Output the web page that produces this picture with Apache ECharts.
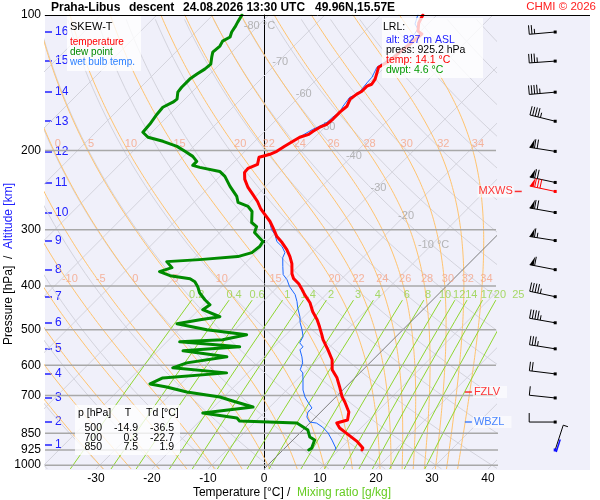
<!DOCTYPE html>
<html>
<head>
<meta charset="utf-8">
<script src="https://cdn.jsdelivr.net/npm/echarts@6/dist/echarts.min.js"></script>
<style>
html,body{margin:0;padding:0;background:#fff}
#chart{width:600px;height:500px}
</style>
</head>
<body>
<div id="chart"></div>
<script>
// sounding: [pressure hPa, value °C]
const tempProfile = [
  [100,-52.5],[104.2,-51.8],[108.6,-50.5],[110.2,-49.3],[116.0,-49.6],[120.9,-50.0],[126.0,-50.2],[130.6,-51.1],
  [138.8,-49.6],[142.5,-49.3],[143.9,-49.8],[147.7,-49.8],[149.9,-50.2],[153.8,-50.5],[159.5,-49.8],[164.4,-50.0],
  [170.5,-50.0],[174.9,-50.2],[177.5,-50.9],[181.2,-51.4],[184.2,-51.6],[186.9,-52.7],[190.8,-53.2],[195.7,-53.8],
  [200.8,-54.3],[203.9,-55.0],[206.0,-55.9],[207.1,-56.4],[214.8,-55.4],[216.9,-55.9],[219.2,-56.4],[223.7,-56.3],
  [231.9,-55.0],[241.6,-53.0],[250.4,-50.9],[259.6,-48.8],[269.1,-47.0],[276.0,-45.5],[287.6,-43.0],[296.6,-41.4],
  [310.6,-39.1],[320.3,-37.1],[332.0,-35.0],[344.1,-33.2],[356.7,-31.6],[375.5,-29.8],[385.3,-28.6],[395.3,-26.8],
  [405.5,-25.4],[418.0,-23.8],[435.7,-21.4],[456.3,-19.3],[475.2,-17.1],[492.9,-15.4],[513.1,-13.6],[526.2,-12.5],
  [554.4,-9.8],[583.2,-7.3],[613.9,-5.5],[639.9,-3.2],[670.4,-1.1],[705.2,1.1],[723.9,2.5],[762.0,5.0],
  [794.0,6.2],[806.0,4.8],[826.8,6.2],[847.9,8.2],[886.9,11.8],[915.8,13.9],[925.2,14.1]
];
const dewProfile = [
  [100,-84.8],[103.7,-84.3],[106.3,-83.9],[109.1,-83.6],[111.9,-83.0],[114.3,-83.6],[117.2,-83.2],[120.9,-83.4],
  [124.0,-82.7],[128.6,-81.6],[131.9,-81.8],[135.3,-82.3],[138.8,-82.7],[144.7,-82.7],[148.4,-82.5],[153.8,-81.4],
  [156.2,-81.6],[160.3,-82.5],[166.1,-82.3],[174.9,-81.8],[182.2,-81.6],[186.9,-79.8],[190.8,-76.4],[195.8,-73.0],
  [200.8,-70.7],[206.1,-68.4],[211.4,-66.8],[215.8,-66.8],[218.0,-65.2],[222.6,-60.9],[228.3,-59.1],[240.3,-56.4],
  [253.0,-53.4],[260.9,-52.1],[266.3,-49.6],[273.2,-48.0],[289.1,-46.1],[295.1,-44.5],[304.3,-43.8],[318.7,-40.7],
  [326.9,-40.4],[337.2,-40.7],[344.1,-42.5],[349.5,-48.8],[353.1,-54.3],[364.1,-52.3],[371.7,-53.8],[379.4,-51.2],
  [385.3,-47.1],[391.3,-45.7],[401.4,-44.3],[414.0,-42.9],[429.1,-40.7],[440.2,-38.9],[451.6,-39.3],[468.1,-35.0],
  [475.4,-38.0],[485.3,-41.4],[500.4,-35.0],[513.4,-27.0],[526.8,-30.4],[532.2,-37.7],[546.0,-26.1],[557.3,-35.5],
  [574.7,-26.6],[592.7,-32.7],[608.0,-34.3],[623.8,-23.8],[640.1,-34.3],[660.1,-35.5],[670.3,-32.0],[687.8,-27.5],
  [705.6,-20.7],[720.3,-17.7],[742.7,-13.0],[765.9,-20.9],[785.8,-13.9],[798.1,-12.9],[806.4,-2.3],[835.8,0.9],
  [866.3,2.5],[879.8,3.9],[916.6,4.8],[925.2,4.6]
];
const wetBulbProfile = [
  [100,-53.4],[102.1,-52.9],[104.7,-52.3],[107.4,-50.9],[116.0,-50.0],[124.0,-50.5],[130.6,-51.4],[137.4,-50.5],
  [141.0,-50.4],[146.1,-50.2],[149.9,-50.0],[152.3,-50.9],[159.5,-50.5],[164.4,-50.0],[168.7,-50.4],[173.1,-50.5],
  [176.6,-51.1],[179.5,-51.8],[186.9,-52.8],[190.8,-53.3],[195.7,-53.9],[200.8,-54.4],[203.9,-55.1],[206.0,-56.0],
  [207.1,-56.5],[214.8,-55.5],[216.9,-56.0],[219.2,-56.5],[223.7,-56.4],[231.9,-55.1],[241.6,-53.1],[250.4,-51.0],
  [259.6,-48.9],[269.1,-47.1],[276.0,-45.6],[287.6,-43.1],[299.7,-41.3],[307.4,-39.8],[318.7,-38.2],[326.9,-36.4],
  [337.2,-34.8],[345.9,-34.3],[362.1,-32.7],[377.3,-31.2],[387.3,-29.6],[401.4,-27.9],[418.0,-25.5],[433.4,-23.9],
  [447.1,-22.7],[468.1,-20.7],[482.6,-19.6],[500.4,-18.0],[518.1,-16.6],[534.9,-16.1],[546.0,-14.8],[554.4,-14.8],
  [574.7,-13.2],[592.7,-12.0],[613.9,-11.2],[623.8,-10.2],[646.7,-8.9],[681.0,-7.1],[705.6,-5.5],[723.9,-4.1],
  [746.5,-2.3],[762.0,-2.3],[781.8,-1.6],[802.2,-0.2],[806.4,1.2],[823.2,3.0],[847.9,5.0],[879.8,7.0],
  [916.6,9.1],[925.2,9.3]
];

// axes
const pressureLevels = [100, 200, 300, 400, 500, 600, 700, 850, 925, 1000];
const tempTicks = [-30, -20, -10, 0, 10, 20, 30, 40];
const altKm = [16, 15, 14, 13, 12, 11, 10, 9, 8, 7, 6, 5, 4, 3, 2, 1];
const altP = [109.1, 126.6, 148.4, 172.2, 200.9, 235.5, 274.6, 317.0, 367.9, 422.5, 482.8, 551.6, 627.1, 709.2, 802.2, 902.5];

// wind at each km level and at the launch point
const windP = [109.1, 126.6, 148.4, 172.2, 200.9, 235.5, 274.6, 317.0, 367.9, 422.5, 482.8, 551.6, 627.1, 709.2, 802.2, 925.2];
const windDir = [265, 266, 265, 284, 279, 282, 280, 279, 281, 282, 280, 279, 277, 276, 270, 18];
const windSpd = [25, 35, 45, 45, 70, 70, 70, 65, 60, 45, 45, 35, 20, 10, 10, 5];
const mxws = { p: 246.6, dir: 282, spd: 80 };

// guide lines of the diagram
const isotherms = [-120, -110, -100, -90, -80, -70, -60, -50, -40, -30, -20, -10, 10, 20, 30, 40];
const isoLabelT = [-80, -70, -60, -50, -40, -30, -20, -10];
const isoLabelP = [106, 127, 150, 177, 206, 242, 280, 324];
const dryTheta = [-40, -30, -20, -10, 0, 10, 20, 30, 40, 50, 60, 70, 80, 90, 100, 110, 120, 130, 140, 150, 160, 170, 180];
const moistThetaW = [-30, -25, -20, -15, -10, -5, 0, 5, 10, 15, 20, 22, 24, 26, 28, 30, 32, 34];
const moistLabelLow = [-10, -5, 0, 5, 10, 15, 20, 22, 24, 26, 28, 30, 32, 34];
const moistLabelHigh = [0, 5, 10, 15, 20, 22, 24, 26, 28, 30, 32, 34];
const mixRatio = [0.2, 0.4, 0.6, 1, 1.4, 2, 3, 4, 6, 8, 10, 12, 14, 17, 20, 25];

// table and launch info
const tableP = [500, 700, 850];
const tableT = [-14.9, 0.3, 7.5];
const tableTd = [-36.5, -22.7, 1.9];
const lrlAlt = 827, lrlPress = 925.2, lrlTemp = 14.1, lrlDwpt = 4.6;
const fzlvP = 688, wbzlP = 802;

const FONT = 'Liberation Sans, Arial, Helvetica, sans-serif';
const PTOP = 100, PBOT = 1020;
const SKEW = 34.82;          // skew of isotherms, °C per e-fold of pressure
const XMIN = -39.1, XMAX = 41.43;
const BARB_X = 52;

function skewX(t, p) { return t + SKEW * Math.log(PBOT / p); }
function pt(p, t) { return [skewX(t, p), Math.log(p)]; }

function es(tc) { return 6.112 * Math.exp(17.67 * tc / (tc + 243.5)); }
function tFromE(e) { const l = Math.log(e / 6.112); return 243.5 * l / (17.67 - l); }

function moistCurve(thw) {
  const Rd = 287.04, Cp = 1005.7, Lv = 2.501e6, EPS = 0.622;
  const rate = (T, lnp) => {
    const p = Math.exp(lnp), e = es(T - 273.15), rs = EPS * e / (p - e);
    return (Rd * T + Lv * rs) / (Cp + Lv * Lv * rs * EPS / (Rd * T * T));
  };
  const h = 0.005;
  const out = [];
  // down to the bottom of the chart
  let T = thw + 273.15, l = Math.log(1000);
  const down = [];
  while (l < Math.log(PBOT)) {
    const k1 = rate(T, l), k2 = rate(T + k1 * h, l + h);
    T += (k1 + k2) / 2 * h; l += h;
    down.push([Math.exp(l), T - 273.15]);
  }
  down.reverse().forEach(d => out.push(d));
  T = thw + 273.15; l = Math.log(1000);
  out.push([1000, thw]);
  while (l > Math.log(PTOP)) {
    const k1 = rate(T, l), k2 = rate(T - k1 * h, l - h);
    T -= (k1 + k2) / 2 * h; l -= h;
    out.push([Math.exp(l), T - 273.15]);
  }
  return out;
}
function valueAt(curve, p) {
  let best = curve[0];
  curve.forEach(c => { if (Math.abs(Math.log(c[0] / p)) < Math.abs(Math.log(best[0] / p))) best = c; });
  return best[1];
}

const series = [];
function guide(points, color, width, clip, z) {
  series.push({
    type: 'line', data: points, symbol: 'none', silent: true, clip: clip, z: z,
    lineStyle: { color: color, width: width }, animation: false
  });
}

// isotherms
isotherms.forEach(t => guide([pt(PBOT, t), pt(PTOP, t)], '#d3d3dc', 1, true, 1));
// dry adiabats
dryTheta.forEach(th => {
  const pts = [];
  for (let l = Math.log(PBOT); l >= Math.log(PTOP) - 1e-9; l -= 0.05) {
    const p = Math.exp(l);
    pts.push(pt(p, (th + 273.15) * Math.pow(p / 1000, 0.2857) - 273.15));
  }
  guide(pts, '#d3d3dc', 1, true, 1);
});
// moist adiabats
const moistCurves = {};
moistThetaW.forEach(tw => {
  const c = moistCurve(tw);
  moistCurves[tw] = c;
  guide(c.map(d => pt(d[0], d[1])), '#ffc36e', 1, true, 1);
});
// mixing ratio lines
const mixP = [430, 480, 550, 650, 750, 850, 950, PBOT];
mixRatio.forEach(w => guide(mixP.map(p => pt(p, tFromE(w * p / (622 + w)))), '#8fd630', 1, false, 1));
// 0 °C isotherm
guide([pt(PBOT, 0), pt(PTOP, 0)], '#7c7c7c', 1, true, 1);
// isobars
pressureLevels.slice(1).forEach(p => {
  const xEnd = p >= 850 ? 50.4 : XMAX;
  guide([[XMIN, Math.log(p)], [xEnd, Math.log(p)]], '#a8a8a8', 1.5, false, 1);
});

function labelSeries(items, color, size, dx) {
  series.push({
    type: 'scatter', data: items, symbolSize: 0, silent: true, clip: false, z: 3, animation: false,
    itemStyle: { color: 'rgba(0,0,0,0)' },
    label: { show: true, position: 'inside', offset: [dx, 0], formatter: '{b}', color: color, fontSize: size, fontFamily: FONT }
  });
}
labelSeries(isoLabelT.map((t, i) => ({
  name: (t === -80 || t === -10) ? t + ' °C' : String(t), value: pt(isoLabelP[i], t)
})), '#a4a4a4', 11, 2);
labelSeries(moistLabelLow.map(tw => ({ name: String(tw), value: pt(385, valueAt(moistCurves[tw], 385)) })),
  '#f5a486', 11, 4);
labelSeries(moistLabelHigh.map(tw => ({ name: String(tw), value: pt(193, valueAt(moistCurves[tw], 193)) })),
  '#f5a486', 11, 7);
labelSeries(mixRatio.map(w => ({ name: String(w), value: pt(418, tFromE(w * 418 / (622 + w))) })), '#93d243', 11, 1);

// profiles
function profile(data, color, width, z) {
  series.push({
    type: 'line', data: data.map(d => pt(d[0], d[1])), symbol: 'none', silent: true, z: z, animation: false,
    lineStyle: { color: color, width: width, join: 'round', cap: 'round' }
  });
}
profile(dewProfile, '#008a00', 3, 4);
profile(wetBulbProfile, '#1a66ff', 1, 5);
profile(tempProfile, '#ff0000', 3, 6);

// wind barbs
function renderBarb(params, api) {
  const p = api.value(0), dir = api.value(1), spd = api.value(2), flag = api.value(3);
  const c = api.coord([BARB_X, Math.log(p)]);
  const col = flag === 1 ? '#ff0000' : '#000000';
  const a = dir * Math.PI / 180;
  const ux = Math.sin(a), uy = -Math.cos(a);
  const fx = -uy, fy = ux;
  const L = 26, F = 9, gap = 2.7;
  const x0 = c[0], y0 = c[1];
  const tx = x0 + ux * L, ty = y0 + uy * L;
  const kids = [];
  kids.push({ type: 'line', shape: { x1: x0, y1: y0, x2: tx, y2: ty }, style: { stroke: col, lineWidth: 1 } });
  if (flag === 2) {
    kids.push({ type: 'line', shape: { x1: x0 + 1, y1: y0 + 2, x2: x0 + 1 + ux * L * 0.5, y2: y0 + 2 + uy * L * 0.5 }, style: { stroke: '#1010ff', lineWidth: 1.5 } });
  }
  let s = Math.round(spd / 5) * 5, d = 0;
  while (s >= 50) {
    const ax = tx - ux * d, ay = ty - uy * d, bx = tx - ux * (d + 4), by = ty - uy * (d + 4);
    kids.push({ type: 'polygon', shape: { points: [[ax, ay], [bx + fx * F, by + fy * F], [bx, by]] }, style: { fill: col } });
    d += 5; s -= 50;
  }
  while (s >= 10) {
    const ax = tx - ux * d, ay = ty - uy * d;
    kids.push({ type: 'line', shape: { x1: ax, y1: ay, x2: ax + fx * F, y2: ay + fy * F }, style: { stroke: col, lineWidth: 1 } });
    d += gap; s -= 10;
  }
  if (s >= 5) {
    const ax = tx - ux * d, ay = ty - uy * d;
    kids.push({ type: 'line', shape: { x1: ax, y1: ay, x2: ax + fx * F * 0.55, y2: ay + fy * F * 0.55 }, style: { stroke: col, lineWidth: 1 } });
  }
  kids.push({ type: 'rect', shape: { x: x0 - 1.5, y: y0 - 1.5, width: 3, height: 3 }, style: { fill: flag === 2 ? '#1010ff' : col } });
  return { type: 'group', children: kids };
}
const barbData = windP.map((p, i) => [p, windDir[i], windSpd[i], i === windP.length - 1 ? 2 : 0]);
barbData.push([mxws.p, mxws.dir, mxws.spd, 1]);
series.push({ type: 'custom', renderItem: renderBarb, data: barbData, clip: false, silent: true, z: 7, animation: false });

// level markers
function marker(x, p, name, color, pos) {
  series.push({
    type: 'scatter', data: [{ name: name, value: [x, Math.log(p)] }], symbol: 'rect', symbolSize: [7, 1.5],
    itemStyle: { color: color }, clip: false, silent: true, z: 8, animation: false,
    label: {
      show: true, position: pos, distance: 1, formatter: '{b}', color: color, fontSize: 11, fontFamily: FONT,
      backgroundColor: 'rgba(255,255,255,0.75)', padding: pos === 'right' ? [1, 7, 0, 1] : [1, 1, 0, 1]
    }
  });
}
marker(36.5, fzlvP, 'FZLV', '#ff0000', 'right');
marker(36.5, wbzlP, 'WBZL', '#1a66ff', 'right');
marker(45.4, mxws.p, 'MXWS', '#ff0000', 'left');

function txt(x, y, text, color, size, extra) {
  return Object.assign({
    type: 'text', x: x, y: y, z: 101,
    style: {
      text: text, fill: color, font: (extra && extra.bold ? 'bold ' : '') + size + 'px ' + FONT,
      textAlign: (extra && extra.align) || 'left', align: (extra && extra.align) || 'left',
      textVerticalAlign: 'middle', verticalAlign: 'middle'
    }
  }, extra && extra.el ? extra.el : {});
}
function box(x, y, w, h) {
  return { type: 'rect', z: 100, shape: { x: x, y: y, width: w, height: h }, style: { fill: 'rgba(255,255,255,0.78)' } };
}
const fmt = v => v.toFixed(1);
const graphics = [
  { type: 'rect', z: -10, shape: { x: 45, y: 15, width: 545, height: 455 }, style: { fill: '#f0f0fa' } },
  { type: 'line', z: 50, shape: { x1: 45, y1: 15.5, x2: 590, y2: 15.5 }, style: { stroke: '#000', lineWidth: 1 } },
  txt(51, 8, 'Praha-Libus', '#000', 12, { bold: true }),
  txt(129, 8, 'descent', '#000', 12, { bold: true }),
  txt(183, 8, '24.08.2026 13:30 UTC', '#000', 12, { bold: true }),
  txt(315, 8, '49.96N,15.57E', '#000', 12, { bold: true }),
  txt(596, 7, 'CHMI © 2026', '#ff2020', 11.5, { align: 'right' }),
  box(67, 16, 74, 55),
  txt(70, 27, 'SKEW-T', '#000', 11),
  txt(70, 42, 'temperature', '#ff0000', 10),
  txt(70, 52, 'dew point', '#008a00', 10),
  txt(70, 62, 'wet bulb temp.', '#2a7fff', 10),
  box(382, 18, 101, 60),
  txt(383, 27, 'LRL:', '#000', 10.5),
  txt(386, 40, 'alt: ' + lrlAlt + ' m ASL', '#2020ff', 10.5),
  txt(386, 50, 'press: ' + fmt(lrlPress) + ' hPa', '#000', 10.5),
  txt(386, 60, 'temp: ' + fmt(lrlTemp) + ' °C', '#ff0000', 10.5),
  txt(386, 70, 'dwpt: ' + fmt(lrlDwpt) + ' °C', '#009900', 10.5),
  box(75, 405, 105, 50),
  txt(78, 413, 'p [hPa]', '#000', 10.5),
  txt(128, 413, 'T', '#000', 10.5, { align: 'center' }),
  txt(146, 413, 'Td [°C]', '#000', 10.5)
];
tableP.forEach((p, i) => {
  const y = 428 + i * 9.8;
  graphics.push(txt(102, y, String(p), '#000', 10.5, { align: 'right' }));
  graphics.push(txt(138, y, fmt(tableT[i]), '#000', 10.5, { align: 'right' }));
  graphics.push(txt(174, y, fmt(tableTd[i]), '#000', 10.5, { align: 'right' }));
});
graphics.push({
  type: 'text', x: 292, y: 493, z: 101,
  style: {
    text: '{a|Temperature [°C]} {a|/}  {b|Mixing ratio [g/kg]}', textAlign: 'center', align: 'center',
    textVerticalAlign: 'middle', verticalAlign: 'middle', font: '12px ' + FONT,
    rich: { a: { fill: '#000', color: '#000', fontSize: 12, fontFamily: FONT }, b: { fill: '#66cc22', color: '#66cc22', fontSize: 12, fontFamily: FONT } }
  }
});
graphics.push({
  type: 'text', x: 9, y: 264, z: 101, rotation: Math.PI / 2,
  style: {
    text: '{a|Pressure [hPa]}  {a|/}  {b|Altitude [km]}', textAlign: 'center', align: 'center',
    textVerticalAlign: 'middle', verticalAlign: 'middle', font: '12px ' + FONT,
    rich: { a: { fill: '#000', color: '#000', fontSize: 12, fontFamily: FONT }, b: { fill: '#2020ff', color: '#2020ff', fontSize: 12, fontFamily: FONT } }
  }
});

const chart = echarts.init(document.getElementById('chart'));
chart.setOption({
  animation: false,
  backgroundColor: '#ffffff',
  textStyle: { fontFamily: FONT },
  grid: { left: 45, right: 104, top: 15, bottom: 31 },
  xAxis: {
    type: 'value', min: XMIN, max: XMAX,
    axisLine: { show: false }, axisTick: { show: false }, splitLine: { show: false },
    axisLabel: { customValues: tempTicks, color: '#000', fontSize: 12, margin: 4, fontFamily: FONT }
  },
  yAxis: [{
    type: 'value', inverse: true, min: Math.log(PTOP), max: Math.log(PBOT),
    axisLine: { show: true, lineStyle: { color: '#000', width: 1 } },
    axisTick: { show: false }, splitLine: { show: false },
    axisLabel: {
      customValues: pressureLevels.map(p => Math.log(p)), color: '#000', fontSize: 12, margin: 4, fontFamily: FONT,
      formatter: v => String(Math.round(Math.exp(v)))
    }
  }, {
    type: 'value', inverse: true, min: Math.log(PTOP), max: Math.log(PBOT), position: 'left',
    axisLine: { show: false }, splitLine: { show: false },
    axisTick: { show: true, inside: true, length: 7, customValues: altP.map(p => Math.log(p)), lineStyle: { color: '#2020ff', width: 1.5 } },
    axisLabel: {
      inside: true, customValues: altP.map(p => Math.log(p)), color: '#2020ff', fontSize: 12, margin: 10, fontFamily: FONT,
      formatter: v => {
        const i = altP.findIndex(p => Math.abs(Math.log(p) - v) < 1e-6);
        return i >= 0 ? String(altKm[i]) : '';
      }
    }
  }],
  graphic: { elements: graphics },
  series: series
});
</script>
</body>
</html>
